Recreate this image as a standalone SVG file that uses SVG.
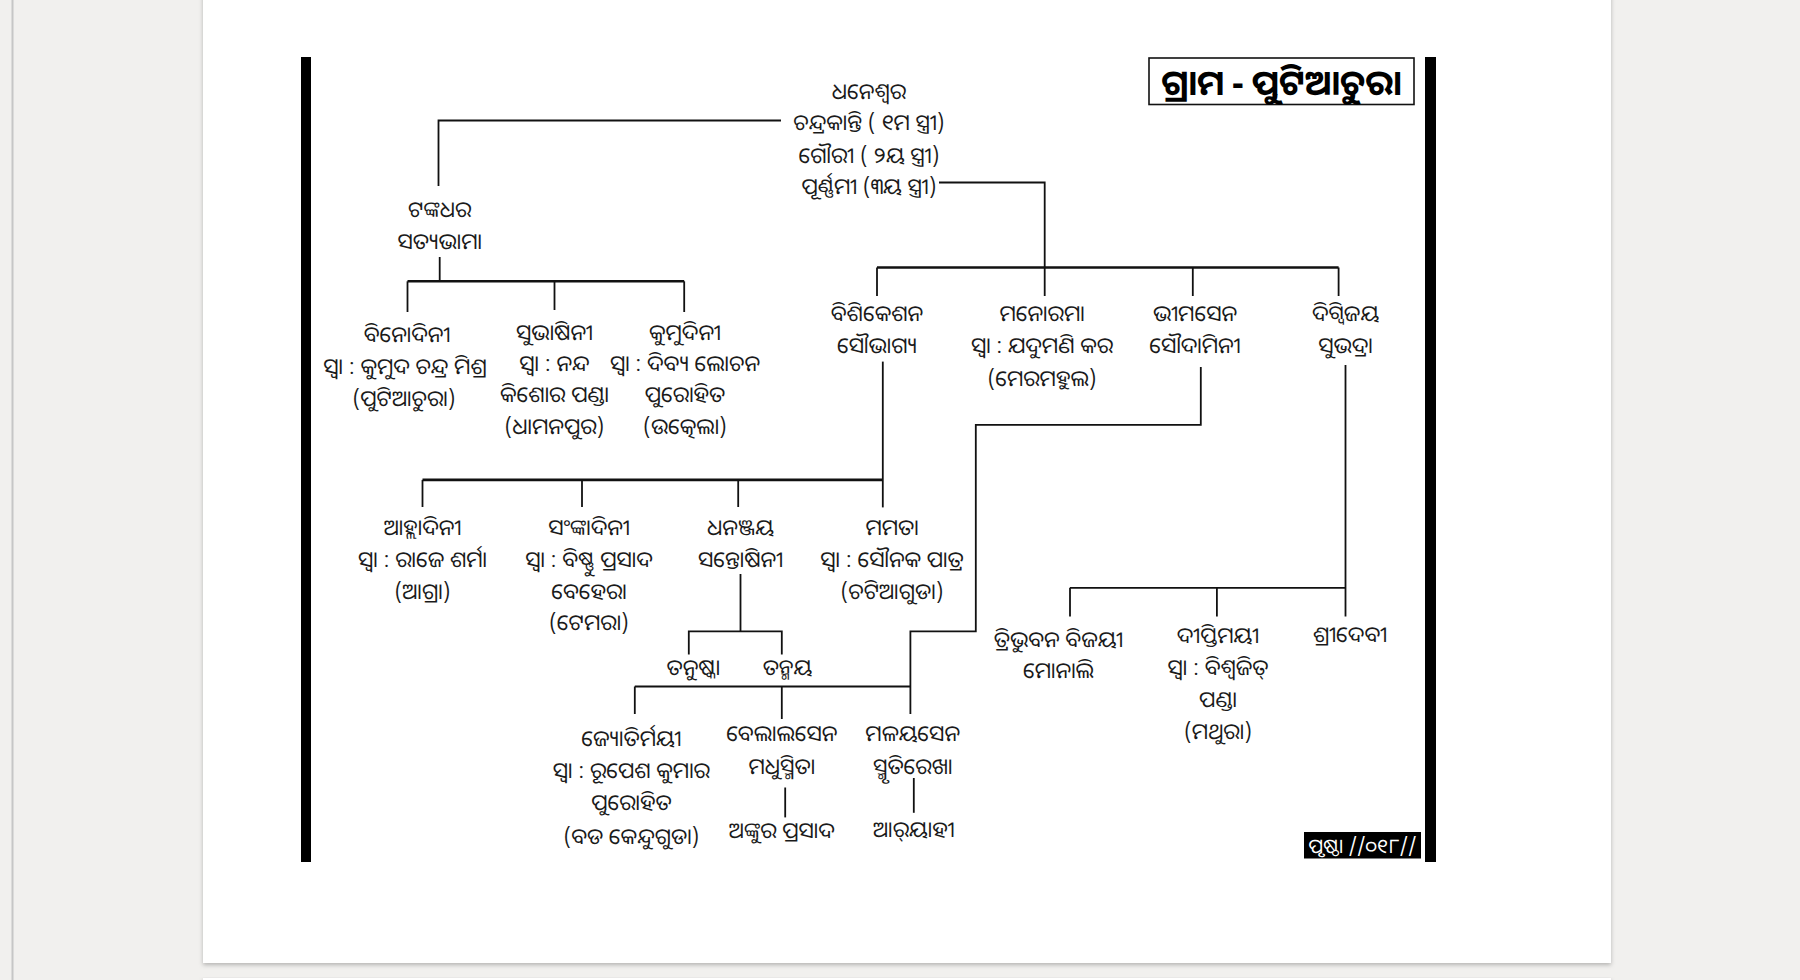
<svg xmlns="http://www.w3.org/2000/svg" width="1800" height="980" viewBox="0 0 1800 980">
<defs>
<style>
.t{font-family:"Noto Sans Oriya","Lohit Odia","Noto Sans","DejaVu Sans",sans-serif;font-size:22px;fill:#1a1a1a;text-anchor:middle;dominant-baseline:central}
.c{fill:none;stroke:#111;stroke-width:1.8}
.ct{fill:none;stroke:#111;stroke-width:2.6}
</style>
<filter id="sh" x="-5%" y="-5%" width="110%" height="110%">
<feDropShadow dx="0" dy="2" stdDeviation="2" flood-color="#000" flood-opacity="0.25"/>
</filter>
</defs>
<rect x="0" y="0" width="1800" height="980" fill="#f1f0ee"/>
<line x1="12.5" y1="0" x2="12.5" y2="980" stroke="#c6c6c6" stroke-width="2"/>
<rect x="203" y="-10" width="1408" height="973" fill="#fff" filter="url(#sh)"/>
<rect x="203" y="978" width="1408" height="20" fill="#fff" filter="url(#sh)"/>

<g id="frame">
<rect x="301" y="57" width="10" height="805" fill="#000"/>
<rect x="1425" y="57" width="11" height="805" fill="#000"/>
</g>

<g id="title">
<rect x="1149" y="58" width="265" height="46.5" fill="#fff" stroke="#111" stroke-width="1.6"/>
<text class="t" x="1281.5" y="81" style="font-size:35px;font-weight:bold;fill:#000">ଗ୍ରାମ - ପୁଟିଆଚୁରା</text>
</g>

<g id="connectors">
<polyline class="c" points="781,120.5 438.5,120.5 438.5,186"/>
<polyline class="c" points="939,182.5 1044.7,182.5 1044.7,296"/>
<line class="ct" x1="877" y1="267.5" x2="1338.6" y2="267.5"/>
<line class="c" x1="877" y1="267.5" x2="877" y2="296"/>
<line class="c" x1="1192.8" y1="267.5" x2="1192.8" y2="296"/>
<line class="c" x1="1338.6" y1="267.5" x2="1338.6" y2="296"/>

<line class="c" x1="439.7" y1="257" x2="439.7" y2="281"/>
<line class="ct" x1="407.5" y1="281.3" x2="684.2" y2="281.3"/>
<line class="c" x1="407.5" y1="281.3" x2="407.5" y2="312"/>
<line class="c" x1="554.5" y1="281.3" x2="554.5" y2="310"/>
<line class="c" x1="684.2" y1="281.3" x2="684.2" y2="312"/>

<line class="c" x1="882.8" y1="361.6" x2="882.8" y2="507.4"/>
<line class="ct" x1="422.5" y1="479.9" x2="882.8" y2="479.9"/>
<line class="c" x1="422.5" y1="479.9" x2="422.5" y2="507"/>
<line class="c" x1="582" y1="479.9" x2="582" y2="507"/>
<line class="c" x1="738.2" y1="479.9" x2="738.2" y2="507"/>

<line class="c" x1="740.5" y1="574" x2="740.5" y2="631.4"/>
<polyline class="c" points="688.8,654.4 688.8,631.4 781.8,631.4 781.8,654.4"/>

<polyline class="c" points="1200.8,367 1200.8,424.8 975.8,424.8 975.8,631.4 910.4,631.4 910.4,714"/>
<line class="c" x1="634.8" y1="686.5" x2="910.4" y2="686.5"/>
<line class="c" x1="634.8" y1="686.5" x2="634.8" y2="714"/>
<line class="c" x1="781.8" y1="686.5" x2="781.8" y2="719"/>

<line class="c" x1="1345.5" y1="365" x2="1345.5" y2="616.5"/>
<line class="c" x1="1070" y1="587.8" x2="1345.5" y2="587.8"/>
<line class="c" x1="1070" y1="587.8" x2="1070" y2="616.5"/>
<line class="c" x1="1216.9" y1="587.8" x2="1216.9" y2="616.5"/>

<line class="c" x1="785.2" y1="787.5" x2="785.2" y2="817.4"/>
<line class="c" x1="913.8" y1="778" x2="913.8" y2="812.8"/>
</g>

<g id="n-dhaneswar">
<text class="t" x="869" y="89.5">ଧନେଶ୍ୱର</text>
<text class="t" x="869" y="120.5">ଚନ୍ଦ୍ରକାନ୍ତି ( ୧ମ ସ୍ତ୍ରୀ)</text>
<text class="t" x="869" y="153.8">ଗୌରୀ ( ୨ୟ ସ୍ତ୍ରୀ)</text>
<text class="t" x="869" y="184.8">ପୂର୍ଣ୍ଣମୀ (୩ୟ ସ୍ତ୍ରୀ)</text>
</g>
<g id="n-tankadhar">
<text class="t" x="439.7" y="207.8">ଟଙ୍କଧର</text>
<text class="t" x="439.7" y="240">ସତ୍ୟଭାମା</text>
</g>
<g id="n-binodini">
<text class="t" x="407" y="333">ବିନୋଦିନୀ</text>
<text class="t" x="405" y="365">ସ୍ୱା : କୁମୁଦ ଚନ୍ଦ୍ର ମିଶ୍ର</text>
<text class="t" x="404" y="397">(ପୁଟିଆଚୁରା)</text>
</g>
<g id="n-subhasini">
<text class="t" x="554.5" y="330.6">ସୁଭାଷିନୀ</text>
<text class="t" x="554.5" y="361.6">ସ୍ୱା : ନନ୍ଦ</text>
<text class="t" x="554.5" y="392.6">କିଶୋର ପଣ୍ଡା</text>
<text class="t" x="554.5" y="424.8">(ଧାମନପୁର)</text>
</g>
<g id="n-kumudini">
<text class="t" x="685" y="330.6">କୁମୁଦିନୀ</text>
<text class="t" x="685" y="361.6">ସ୍ୱା : ଦିବ୍ୟ ଲୋଚନ</text>
<text class="t" x="685" y="392.6">ପୁରୋହିତ</text>
<text class="t" x="685" y="424.8">(ଉତ୍କେଲା)</text>
</g>
<g id="n-bisikesan">
<text class="t" x="877" y="312">ବିଶିକେଶନ</text>
<text class="t" x="877" y="344.4">ସୌଭାଗ୍ୟ</text>
</g>
<g id="n-manorama">
<text class="t" x="1042" y="312">ମନୋରମା</text>
<text class="t" x="1042" y="344.4">ସ୍ୱା : ଯଦୁମଣି କର</text>
<text class="t" x="1042" y="376.5">(ମେରମହୁଲ)</text>
</g>
<g id="n-bhimasen">
<text class="t" x="1195" y="312">ଭୀମସେନ</text>
<text class="t" x="1195" y="344.4">ସୌଦାମିନୀ</text>
</g>
<g id="n-digvijay">
<text class="t" x="1345.5" y="312">ଦିଗ୍ବିଜୟ</text>
<text class="t" x="1345.5" y="344.4">ସୁଭଦ୍ରା</text>
</g>
<g id="n-ahladini">
<text class="t" x="422.5" y="525.8">ଆହ୍ଲାଦିନୀ</text>
<text class="t" x="422.5" y="558">ସ୍ୱା : ରାଜେ ଶର୍ମା</text>
<text class="t" x="422.5" y="590">(ଆଗ୍ରା)</text>
</g>
<g id="n-sanhladini">
<text class="t" x="589" y="525.8">ସଂଙ୍କାଦିନୀ</text>
<text class="t" x="589" y="558">ସ୍ୱା : ବିଷ୍ଣୁ ପ୍ରସାଦ</text>
<text class="t" x="589" y="590">ବେହେରା</text>
<text class="t" x="589" y="621">(ଟେମରା)</text>
</g>
<g id="n-dhananjay">
<text class="t" x="740.5" y="525.8">ଧନଞ୍ଜୟ</text>
<text class="t" x="740.5" y="558">ସନ୍ତୋଷିନୀ</text>
</g>
<g id="n-mamata">
<text class="t" x="892" y="525.8">ମମତା</text>
<text class="t" x="892" y="558">ସ୍ୱା : ସୌନକ ପାତ୍ର</text>
<text class="t" x="892" y="590">(ଚଟିଆଗୁଡା)</text>
</g>
<g id="n-tanuska">
<text class="t" x="693.4" y="665.8">ତନୁଷ୍କା</text>
</g>
<g id="n-tanmay">
<text class="t" x="787.5" y="665.8">ତନ୍ମୟ</text>
</g>
<g id="n-jyotirmayee">
<text class="t" x="631.4" y="737">ଜ୍ୟୋତିର୍ମୟୀ</text>
<text class="t" x="631.4" y="769">ସ୍ୱା : ରୂପେଶ କୁମାର</text>
<text class="t" x="631.4" y="801.3">ପୁରୋହିତ</text>
<text class="t" x="631.4" y="834.6">(ବଡ କେନ୍ଦୁଗୁଡା)</text>
</g>
<g id="n-belalsen">
<text class="t" x="781.8" y="732.4">ବେଲାଲସେନ</text>
<text class="t" x="781.8" y="764.6">ମଧୁସ୍ମିତା</text>
</g>
<g id="n-ankur">
<text class="t" x="781.8" y="828.9">ଅଙ୍କୁର ପ୍ରସାଦ</text>
</g>
<g id="n-malayasen">
<text class="t" x="912.7" y="732.4">ମଳୟସେନ</text>
<text class="t" x="912.7" y="764.6">ସ୍ମୃତିରେଖା</text>
</g>
<g id="n-aryahi">
<text class="t" x="913.8" y="827.7">ଆର୍&#x200C;ୟାହୀ</text>
</g>
<g id="n-tribhuban">
<text class="t" x="1058.5" y="638.3">ତ୍ରିଭୁବନ ବିଜୟୀ</text>
<text class="t" x="1058.5" y="669.3">ମୋନାଲି</text>
</g>
<g id="n-diptimayee">
<text class="t" x="1218" y="633.7">ଦୀପ୍ତିମୟୀ</text>
<text class="t" x="1218" y="665.8">ସ୍ୱା : ବିଶ୍ୱଜିତ୍</text>
<text class="t" x="1218" y="698">ପଣ୍ଡା</text>
<text class="t" x="1218" y="730">(ମଥୁରା)</text>
</g>
<g id="n-sridevi">
<text class="t" x="1350" y="632.5">ଶ୍ରୀଦେବୀ</text>
</g>

<g id="pagenum">
<rect x="1304" y="832" width="117" height="26.5" fill="#000"/>
<text class="t" x="1362.5" y="845" style="fill:#fff;font-size:20px">ପୃଷ୍ଠା //୦୧୮//</text>
</g>
</svg>
